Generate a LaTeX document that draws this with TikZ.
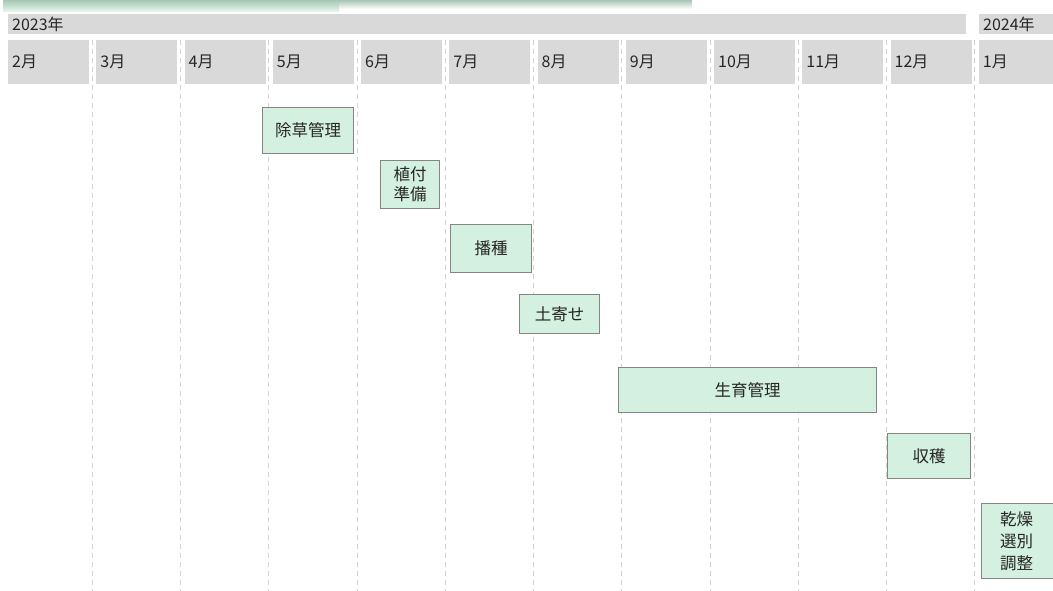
\documentclass[tikz,border=0pt]{standalone}
\usepackage{fontspec}
\setmainfont{Noto Sans CJK JP}
\definecolor{hdr}{HTML}{D9D9D9}
\definecolor{txt}{HTML}{262626}
\definecolor{taskfill}{HTML}{D3F0E0}
\definecolor{taskline}{HTML}{858585}
\definecolor{gridc}{HTML}{D2D2D2}
\tikzset{
  hdrbox/.style={fill=hdr, draw=none, anchor=north west, inner xsep=4pt, inner ysep=0pt,
    text=txt, font=\fontsize{16}{18}\selectfont, align=left},
  taskbox/.style={fill=taskfill, draw=taskline, line width=1.2pt, anchor=north west,
    inner sep=0pt, text=txt, font=\fontsize{16.5}{20}\selectfont, align=center},
  gridline/.style={draw=gridc, line width=0.8pt, dash pattern=on 5pt off 4pt}
}
\begin{document}
\begin{tikzpicture}[x=1pt,y=-1pt]
\useasboundingbox (0,0) rectangle (1053,591);
\begin{scope}
\clip (0,0) rectangle (1053,591);
% top progress bars
\shade[top color={rgb,255:red,166;green,200;blue,180}, bottom color={rgb,255:red,234;green,248;blue,237}] (3,0) rectangle (339,12);
\shade[top color={rgb,255:red,168;green,197;blue,181}, bottom color=white] (339,0) rectangle (692,9);
% year bars
\node[hdrbox, minimum width=958pt, minimum height=20pt, text width=950pt] (y2023) at (8,14) {2023年};
\node[hdrbox, minimum width=80pt, minimum height=20pt, text width=72pt] (y2024) at (979,14) {2024年};
% month headers
\foreach \m [count=\i from 0] in {2月,3月,4月,5月,6月,7月,8月,9月,10月,11月,12月,1月}{
  \node[hdrbox, minimum width=81pt, minimum height=44pt, text width=73pt] (m\i) at ({8+88.25*\i},40) {\m};
}
% dashed grid
\foreach \i in {1,...,11}{
  \coordinate (gt\i) at ({8+88.25*\i-4},40);
  \coordinate (gb\i) at ({8+88.25*\i-4},591);
  \draw[gridline] (gt\i) -- (gb\i);
}
% tasks
\node[taskbox, minimum width=91pt, minimum height=46pt] (t1) at (262,107) {除草管理};
\node[taskbox, minimum width=59pt, minimum height=48pt] (t2) at (380,160) {植付\\準備};
\node[taskbox, minimum width=81pt, minimum height=48pt] (t3) at (450,224) {播種};
\node[taskbox, minimum width=80pt, minimum height=39pt] (t4) at (519,294) {土寄せ};
\node[taskbox, minimum width=258pt, minimum height=45pt] (t5) at (618,367) {生育管理};
\node[taskbox, minimum width=83pt, minimum height=45pt] (t6) at (887,433) {収穫};
\node[taskbox, minimum width=80pt, minimum height=75pt, text width=80pt, font=\fontsize{16.5}{22}\selectfont] (t7) at (981,503) {\hspace*{-10pt}乾燥\\\hspace*{-10pt}選別\\\hspace*{-10pt}調整};
\end{scope}
\end{tikzpicture}
\end{document}
